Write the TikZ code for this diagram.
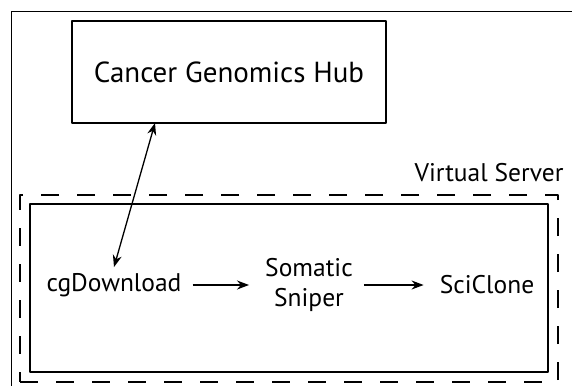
\documentclass[tikz,border=0pt]{standalone}
\usepackage{fontspec}
\setmainfont{PT Sans}
\usetikzlibrary{arrows.meta}
\tikzset{
  box/.style={draw, line width=1.5pt, inner sep=0pt},
  tool/.style={inner sep=6pt, align=center},
  flow/.style={->, line width=1.3pt, shorten <=5pt, shorten >=10pt}
}
\begin{document}
\begin{tikzpicture}[x=1pt, y=-1pt, line join=round, >={Stealth[length=12pt,width=9pt]}, font=\fontsize{25.5}{30}\selectfont]
\useasboundingbox (0,0) rectangle (572,385);
\draw[line width=1pt] (11,395) -- (11,12) -- (585,12);
\node[box, minimum width=314pt, minimum height=102pt, font=\fontsize{29}{34}\selectfont] (hub) at (229,72) {Cancer Genomics Hub};
\node[box, dash pattern=on 18pt off 18pt, line width=2pt, minimum width=538pt, minimum height=187pt] (vm) at (289,288.5) {};
\node[box, minimum width=518pt, minimum height=168pt] (server) at (289,288) {};
\node (vmlabel) at (489,173) {Virtual Server};
\node[tool] (cg) at (114,285) {cgDownload};
\node[tool] (somatic) at (309,285) {Somatic\\Sniper};
\node[tool] (sciclone) at (487,285) {SciClone};
\coordinate (hubend) at (155,123);
\draw[<->, line width=1.3pt] (hubend) -- (cg.north);
\draw[flow] (cg) -- (somatic);
\draw[flow] (somatic) -- (sciclone);
\end{tikzpicture}
\end{document}
